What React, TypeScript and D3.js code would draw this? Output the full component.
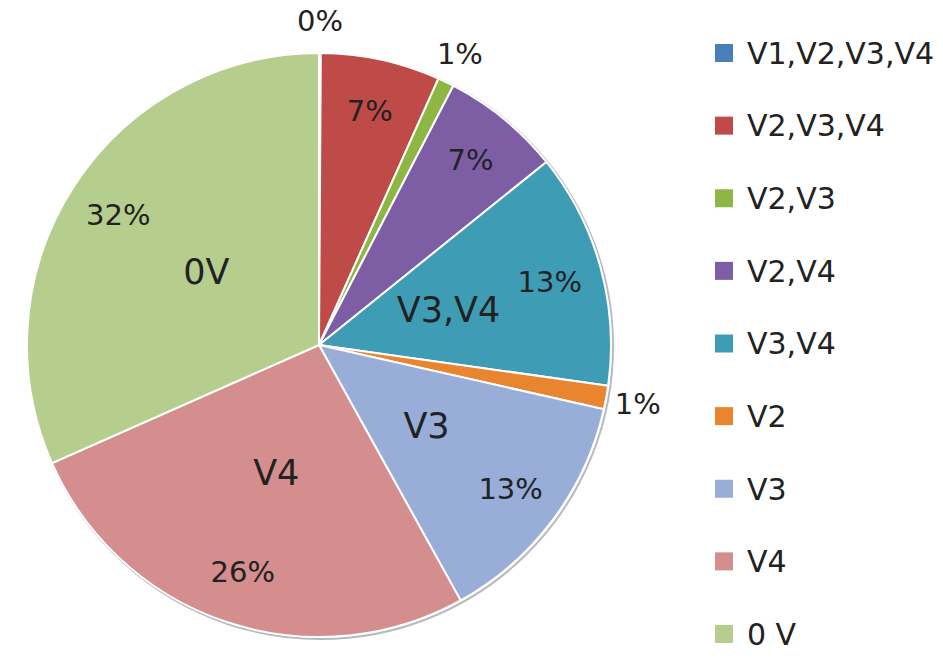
import React from "react";
import * as d3 from "d3";

const categories = ["V1,V2,V3,V4", "V2,V3,V4", "V2,V3", "V2,V4", "V3,V4", "V2", "V3", "V4", "0V"];
const legendLabels = ["V1,V2,V3,V4", "V2,V3,V4", "V2,V3", "V2,V4", "V3,V4", "V2", "V3", "V4", "0 V"];
const values = [0.1, 6.6, 0.9, 6.6, 13.0, 1.3, 13.4, 26.4, 31.6];
const colors = ["#4A7EBB", "#BE4B48", "#8DB742", "#7D5EA5", "#3E9DB5", "#E9852F", "#98ADD8", "#D48E8E", "#B5CE8E"];
// slices whose category name is written inside the pie
const namedSlices = ["V3,V4", "V3", "V4", "0V"];

const W = 943;
const H = 664;
const cx = 319;
const cy = 345;
const R = 292;

export default function App() {
  const total = d3.sum(values);
  const data = categories.map((c, i) => ({ name: c, value: values[i], color: colors[i] }));
  const pie = d3.pie<any>().value((d) => d.value).sort(null).startAngle(0).endAngle(2 * Math.PI);
  const arcs = pie(data);
  const arcGen = d3.arc<any>().innerRadius(0).outerRadius(R);
  const polar = (a: number, r: number) => [Math.sin(a) * r, -Math.cos(a) * r];

  const legendY = d3.scalePoint<string>().domain(legendLabels).range([53, 634]);

  return (
    <svg width={W} height={H} style={{ position: "absolute", left: 0, top: 0, background: "#fff" }}
      fontFamily="DejaVu Sans, Verdana, sans-serif">
      <g transform={`translate(${cx},${cy})`}>
        <circle cx={1.5} cy={1.5} r={R + 0.5} fill="none" stroke="#b8b8c0" strokeWidth={2} />
        {arcs.map((a, i) => (
          <path key={i} d={arcGen(a) as string} fill={a.data.color} stroke="#fff" strokeWidth={2} />
        ))}
        {arcs.map((a, i) => {
          const mid = (a.startAngle + a.endAngle) / 2;
          const pct = (a.data.value / total) * 100;
          const small = pct < 2;
          const [x, y] = polar(mid, small ? R * 1.11 : R * 0.82);
          return (
            <text key={"p" + i} x={x} y={y} dy="0.36em" textAnchor="middle" fontSize={29} fill="#222">
              {Math.round(pct) + "%"}
            </text>
          );
        })}
        {arcs.filter((a) => namedSlices.includes(a.data.name)).map((a, i) => {
          const mid = (a.startAngle + a.endAngle) / 2;
          const [x, y] = polar(mid, R * 0.46);
          return (
            <text key={"c" + i} x={x} y={y} dy="0.36em" textAnchor="middle" fontSize={35} fill="#222">
              {a.data.name}
            </text>
          );
        })}
      </g>
      <g>
        {legendLabels.map((l, i) => (
          <g key={l} transform={`translate(715,${legendY(l)})`}>
            <rect x={0} y={-9} width={18} height={18} fill={colors[i]} />
            <text x={32} y={0} dy="0.36em" fontSize={30} fill="#222">{l}</text>
          </g>
        ))}
      </g>
    </svg>
  );
}
